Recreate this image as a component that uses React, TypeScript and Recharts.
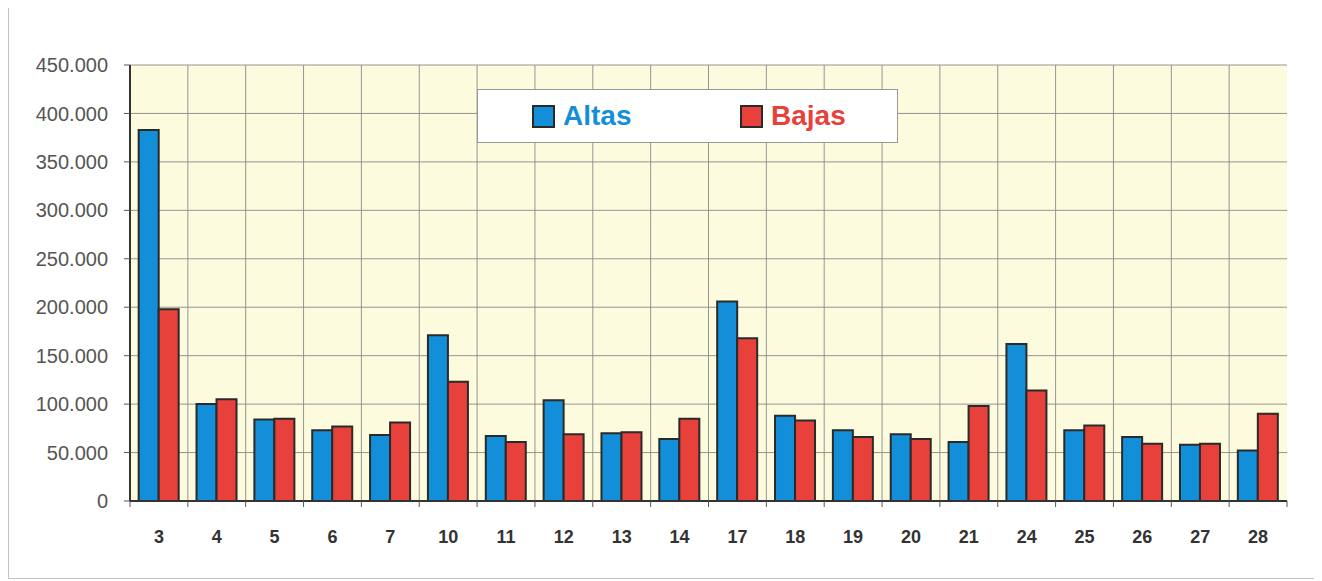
import React from 'react';
import { BarChart, Bar, XAxis, YAxis, CartesianGrid } from 'recharts';

const dias = ['3', '4', '5', '6', '7', '10', '11', '12', '13', '14', '17', '18', '19', '20', '21', '24', '25', '26', '27', '28'];
const altas = [383000, 100000, 84000, 73000, 68000, 171000, 67000, 104000, 70000, 64000, 206000, 88000, 73000, 69000, 61000, 162000, 73000, 66000, 58000, 52000];
const bajas = [198000, 105000, 85000, 77000, 81000, 123000, 61000, 69000, 71000, 85000, 168000, 83000, 66000, 64000, 98000, 114000, 78000, 59000, 59000, 90000];
const yTicks = [0, 50000, 100000, 150000, 200000, 250000, 300000, 350000, 400000, 450000];

const BLUE = '#138FD9';
const RED = '#E8413B';
const EDGE = '#2a2a2a';

const data = dias.map((d, i) => ({ dia: d, altas: altas[i], bajas: bajas[i] }));

const fmt = (v: number) => v.toLocaleString('de-DE');

// x labels plus the small tick marks between categories
function DayTick(props: any) {
  const { x, y, payload, index } = props;
  const half = payload.offset || 0;
  const axisY = y - 29;
  return (
    <g>
      <line x1={x - half} x2={x - half} y1={axisY} y2={axisY + 6} stroke="#555" />
      {index === dias.length - 1 && (
        <line x1={x + half} x2={x + half} y1={axisY} y2={axisY + 6} stroke="#555" />
      )}
      <text x={x} y={y} dy="0.71em" textAnchor="middle" fontSize={18} fontWeight="bold" fill="#333"
        fontFamily="'Liberation Sans', Arial, sans-serif">
        {payload.value}
      </text>
    </g>
  );
}

function LegendBox() {
  const item = (color: string, label: string, w: number) => (
    <div style={{ display: 'flex', alignItems: 'center', width: w }}>
      <span style={{ width: 19, height: 19, background: color, border: `2px solid ${EDGE}`, marginRight: 8 }} />
      <span style={{ color, fontSize: 28, fontWeight: 'bold' }}>{label}</span>
    </div>
  );
  return (
    <div style={{
      position: 'absolute', left: 468, top: 83,
      width: 421, height: 54, boxSizing: 'border-box', background: '#fff', border: '1px solid #999',
      display: 'flex', alignItems: 'center', paddingLeft: 54,
      fontFamily: "'Liberation Sans', Arial, sans-serif",
    }}>
      {item(BLUE, 'Altas', 208)}
      {item(RED, 'Bajas', 130)}
    </div>
  );
}

export default function App() {
  return (
    <div style={{ position: 'relative', marginTop: -3, width: 1311, height: 574, border: '1px solid #c4c4c4', boxSizing: 'border-box', background: '#fff' }}>
      <BarChart width={1309} height={572} data={data}
        margin={{ top: 59, right: 31, left: 0, bottom: 37 }}
        barCategoryGap="15%" barGap={0}>
        <CartesianGrid fill="#FDFBDD" stroke="#8a8a8a" strokeOpacity={0.9}
          verticalCoordinatesGenerator={({ offset }: any) =>
            dias.map((_, i) => offset.left + (i * offset.width) / dias.length)} />
        <XAxis dataKey="dia" tick={<DayTick />} tickLine={false} tickSize={6} tickMargin={23} height={40}
          axisLine={{ stroke: '#333', strokeWidth: 2 }} interval={0} />
        <XAxis xAxisId="top" orientation="top" dataKey="dia" tick={false} tickLine={false} height={0}
          axisLine={{ stroke: '#333', strokeWidth: 2 }} />
        <YAxis domain={[0, 450000]} ticks={yTicks} tickFormatter={fmt} width={121} interval={0}
          tickSize={6} tickMargin={16} tickLine={{ stroke: '#555' }}
          axisLine={{ stroke: '#333', strokeWidth: 2 }}
          tick={{ fontSize: 20, fill: '#555', fontFamily: "'Liberation Sans', Arial, sans-serif" }} />
        <YAxis yAxisId="right" orientation="right" domain={[0, 450000]} tick={false} tickLine={false} width={0}
          axisLine={{ stroke: '#333', strokeWidth: 2 }} />
        <Bar dataKey="altas" name="Altas" fill={BLUE} stroke={EDGE} strokeWidth={2} isAnimationActive={false} />
        <Bar dataKey="bajas" name="Bajas" fill={RED} stroke={EDGE} strokeWidth={2} isAnimationActive={false} />
      </BarChart>
      <LegendBox />
    </div>
  );
}
